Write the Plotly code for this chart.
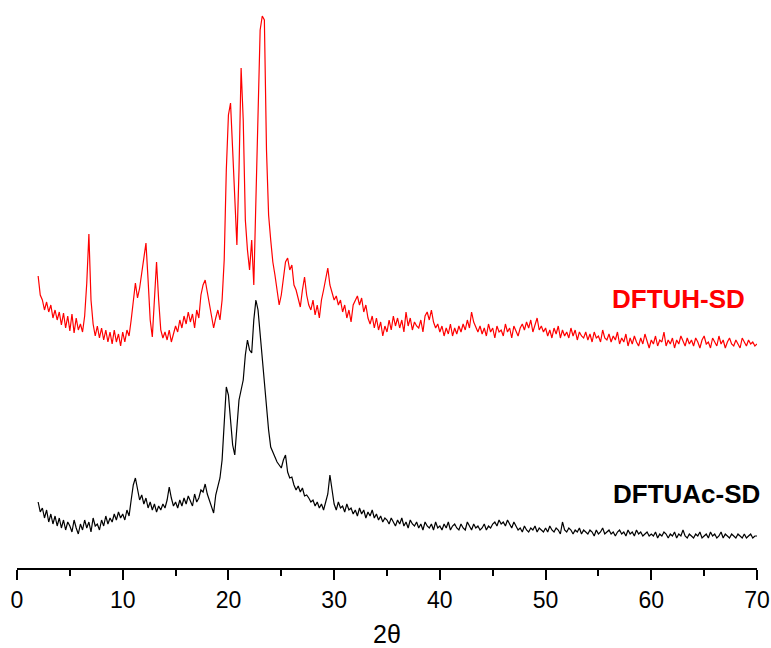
import numpy as np
import plotly.graph_objects as go

# 2-theta sampling grid (degrees)
theta_start = 2.0
theta_step = 0.2

# DFTUH-SD intensities (arbitrary units, offset pattern), 2.0 .. 70.0 step 0.2
dftuh_sd = [
    292, 273, 268, 258, 266, 256, 263, 250, 258, 248,
    256, 243, 255, 240, 252, 237, 254, 235, 250, 238,
    244, 236, 252, 285, 334, 268, 244, 232, 242, 230,
    240, 228, 238, 226, 236, 224, 238, 226, 234, 222,
    236, 226, 238, 232, 248, 270, 285, 270, 280, 295,
    313, 325, 288, 248, 231, 268, 306, 268, 238, 230,
    236, 228, 238, 226, 234, 242, 236, 248, 240, 252,
    244, 256, 246, 254, 240, 258, 250, 273, 283, 288,
    276, 263, 253, 240, 250, 258, 248, 268, 308, 398,
    453, 465, 418, 363, 323, 398, 500, 448, 348, 318,
    298, 328, 283, 368, 448, 538, 552, 548, 418, 353,
    328, 306, 293, 278, 263, 273, 293, 306, 310, 298,
    303, 283, 278, 268, 261, 278, 291, 273, 263, 258,
    268, 253, 263, 250, 268, 278, 288, 300, 283, 276,
    268, 272, 263, 268, 256, 263, 250, 258, 246, 263,
    268, 272, 263, 270, 256, 263, 250, 244, 252, 240,
    250, 238, 246, 232, 242, 236, 248, 238, 252, 242,
    250, 240, 248, 236, 256, 242, 250, 238, 246, 242,
    240, 248, 236, 252, 256, 248, 258, 246, 240, 244,
    236, 242, 232, 240, 234, 244, 232, 240, 234, 242,
    236, 244, 238, 248, 240, 256, 246, 240, 236, 242,
    234, 240, 232, 244, 236, 240, 230, 242, 236, 238,
    232, 244, 236, 240, 230, 242, 236, 232, 240, 244,
    238, 246, 240, 248, 236, 244, 250, 238, 242, 236,
    240, 232, 238, 230, 240, 234, 242, 230, 238, 232,
    236, 230, 240, 232, 238, 228, 236, 232, 230, 236,
    228, 234, 226, 236, 230, 232, 226, 238, 230, 228,
    234, 226, 232, 228, 236, 224, 230, 226, 234, 222,
    230, 224, 232, 226, 222, 230, 224, 234, 226, 220,
    228, 224, 232, 222, 228, 226, 236, 222, 228, 224,
    230, 220, 228, 224, 232, 226, 222, 230, 224, 228,
    222, 230, 226, 220, 228, 232, 224, 226, 220, 230,
    226, 222, 232, 224, 228, 220, 226, 230, 224, 222,
    228, 224, 220, 230, 226, 222, 228, 224, 226, 222,
    224,
]

# DFTUAc-SD intensities (arbitrary units), 2.0 .. 70.0 step 0.2
dftuac_sd = [
    66, 56, 60, 50, 58, 46, 54, 44, 52, 42,
    50, 40, 48, 38, 46, 42, 36, 48, 40, 34,
    44, 38, 48, 40, 46, 36, 50, 42, 44, 38,
    48, 42, 52, 44, 50, 46, 54, 48, 56, 50,
    54, 48, 58, 52, 68, 83, 90, 78, 68, 73,
    64, 70, 60, 66, 58, 64, 56, 62, 58, 64,
    60, 68, 81, 70, 62, 66, 60, 68, 62, 70,
    64, 72, 66, 62, 74, 66, 70, 78, 76, 84,
    74, 68, 63, 55, 73, 83, 90, 108, 148, 181,
    173, 148, 123, 113, 138, 168, 178, 188, 213, 228,
    218, 215, 248, 268, 258, 233, 213, 188, 163, 138,
    121, 116, 110, 106, 103, 100, 108, 113, 96, 90,
    91, 83, 78, 82, 76, 80, 72, 73, 70, 66,
    68, 62, 66, 60, 64, 58, 66, 74, 93, 76,
    64, 58, 66, 60, 62, 56, 64, 58, 60, 54,
    58, 52, 60, 54, 58, 50, 56, 52, 58, 50,
    54, 48, 52, 46, 50, 48, 44, 50, 46, 42,
    48, 44, 50, 42, 46, 40, 48, 44, 42, 46,
    40, 44, 38, 46, 42, 40, 44, 38, 46, 40,
    42, 38, 44, 40, 46, 38, 42, 44, 40, 38,
    44, 40, 38, 46, 42, 38, 44, 40, 42, 38,
    40, 44, 38, 42, 40, 44, 46, 42, 48, 44,
    46, 42, 48, 44, 40, 46, 42, 38, 40, 36,
    42, 38, 36, 40, 38, 42, 36, 40, 38, 36,
    40, 36, 42, 38, 36, 40, 38, 34, 46, 38,
    36, 40, 38, 34, 38, 36, 40, 34, 38, 36,
    34, 38, 36, 32, 38, 34, 36, 40, 34, 36,
    38, 34, 36, 32, 36, 38, 34, 36, 32, 38,
    34, 36, 32, 38, 34, 36, 32, 34, 36, 32,
    34, 32, 36, 30, 34, 32, 36, 34, 30, 34,
    32, 36, 30, 34, 32, 38, 32, 30, 34, 32,
    30, 34, 32, 36, 30, 32, 34, 30, 36, 32,
    34, 30, 32, 36, 30, 34, 32, 30, 34, 32,
    30, 34, 32, 30, 34, 30, 32, 34, 30, 32,
    32,
]

tick_vals = [0, 10, 20, 30, 40, 50, 60, 70]
tick_text = ["0", "10", "20", "30", "40", "50", "60", "70"]

two_theta = theta_start + theta_step * np.arange(len(dftuh_sd))

fig = go.Figure()
fig.add_trace(go.Scatter(x=two_theta, y=dftuh_sd, mode="lines",
                         line=dict(color="#ff0000", width=1.2), name="DFTUH-SD"))
fig.add_trace(go.Scatter(x=two_theta, y=dftuac_sd, mode="lines",
                         line=dict(color="#000000", width=1.2), name="DFTUAc-SD"))

fig.add_annotation(x=62.6, y=269.5, xref="x", yref="y", text="<b>DFTUH-SD</b>",
                   showarrow=False, font=dict(family="Liberation Sans", size=26, color="#ff0000"))
fig.add_annotation(x=63.3, y=74.5, xref="x", yref="y", text="<b>DFTUAc-SD</b>",
                   showarrow=False, font=dict(family="Liberation Sans", size=26, color="#000000"))

fig.update_layout(
    width=771, height=648,
    margin=dict(l=17, r=14, t=0, b=80, autoexpand=False),
    paper_bgcolor="white", plot_bgcolor="white",
    showlegend=False,
    font=dict(family="Liberation Sans", color="black"),
    xaxis=dict(
        range=[0, 70], tickmode="array", tickvals=tick_vals, ticktext=tick_text,
        ticks="outside", ticklen=10, tickwidth=2, tickcolor="black",
        showline=True, linecolor="black", linewidth=2,
        showgrid=False, zeroline=False, automargin=False,
        tickfont=dict(size=23, family="Liberation Sans"),
        minor=dict(dtick=5, tick0=0, ticks="outside", ticklen=6, tickwidth=2, tickcolor="black", showgrid=False),
        title=dict(text="2θ", font=dict(size=25, family="Liberation Sans"), standoff=16),
    ),
    yaxis=dict(range=[0, 568], visible=False, showgrid=False, zeroline=False),
)

fig.write_html(
    "out.html",
    config={"displayModeBar": False},
    post_script="document.body.style.margin='0';document.body.style.overflow='hidden';",
)
